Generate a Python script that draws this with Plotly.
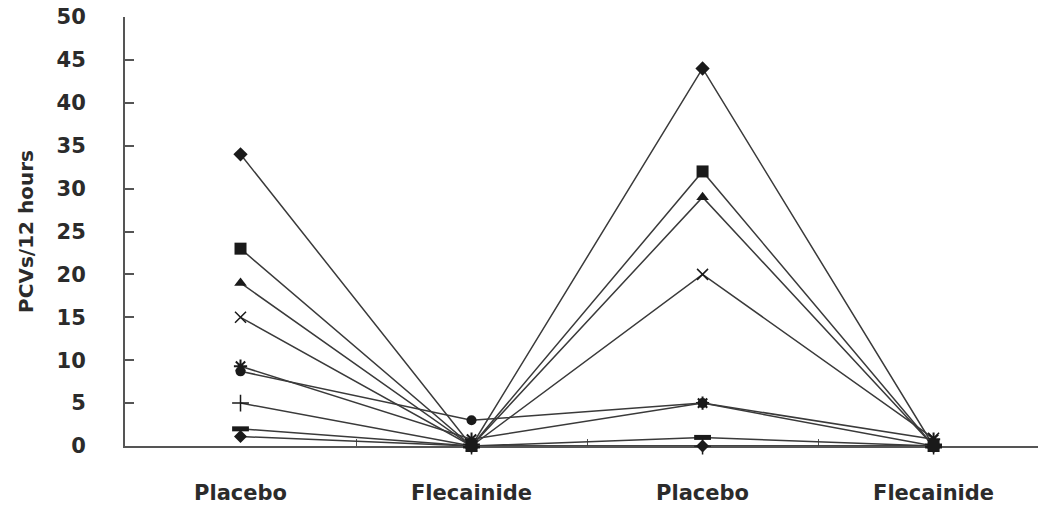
import plotly.graph_objects as go

categories = ["Placebo", "Flecainide", "Placebo ", "Flecainide "]
tick_labels = ["Placebo", "Flecainide", "Placebo", "Flecainide"]

s_diamond = [34, 0, 44, 0]
s_square = [23, 0, 32, 0]
s_triangle = [19, 0, 29, 0]
s_x = [15, 0, 20, 0.9]
s_asterisk = [9.3, 0.8, 5, 0.8]
s_circle = [8.7, 3, 5, 0]
s_plus = [5, 0, 0, 0]
s_bar = [2, 0, 1, 0]
s_low = [1.1, 0, 0, 0]

series = [
    (s_diamond, "diamond", 11, 0),
    (s_triangle, "triangle-up", 11, 0),
    (s_x, "x-thin-open", 11, 1.5),
    (s_asterisk, "asterisk-open", 11, 2),
    (s_circle, "circle", 10, 0),
    (s_plus, "cross-thin-open", 12, 1.5),
    (s_bar, "line-ew-open", 12, 5),
    (s_low, "diamond", 10, 0),
    (s_square, "square", 12, 0),
]

ink = "#2b2b2b"
fig = go.Figure()
for vals, sym, size, lw in series:
    fig.add_trace(go.Scatter(
        x=categories, y=vals, mode="lines+markers",
        line=dict(color="#3a3a3a", width=1.5),
        marker=dict(symbol=sym, size=size, color="#1a1a1a",
                    line=dict(color="#1a1a1a", width=lw)),
        showlegend=False, cliponaxis=False,
    ))

font_family = "DejaVu Sans, sans-serif"
fig.update_layout(
    width=1038, height=508,
    margin=dict(l=125, r=0, t=17, b=62),
    paper_bgcolor="white", plot_bgcolor="white",
    font=dict(family=font_family, color=ink),
    xaxis=dict(
        type="category", tickmode="array", tickvals=categories, ticktext=tick_labels,
        showgrid=False, zeroline=False, showline=True, linecolor="#555", linewidth=2,
        ticks="inside", tickson="boundaries", ticklen=7, tickcolor="#555", tickwidth=1,
        tickfont=dict(size=21, family=font_family, color=ink, weight="bold"),
        ticklabelstandoff=27, range=[-0.5, 3.452], automargin=False,
        layer="below traces",
    ),
    yaxis=dict(
        range=[0, 50], tickvals=list(range(0, 51, 5)),
        showgrid=False, zeroline=False, showline=True, linecolor="#555", linewidth=2,
        ticks="inside", ticklen=9, tickcolor="#555", tickwidth=1.5,
        tickfont=dict(size=21, family=font_family, color=ink, weight="bold"),
        ticklabelstandoff=33, automargin=False, layer="below traces",
        title=dict(text="PCVs/12 hours", font=dict(size=20, family=font_family, color=ink, weight="bold"), standoff=18),
    ),
)

fig.write_html("out.html", config={"displayModeBar": False},
               post_script="document.body.style.margin='0';")
